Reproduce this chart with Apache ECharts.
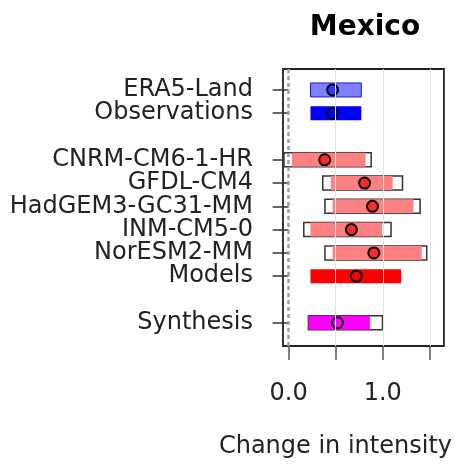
<!DOCTYPE html>
<html>
<head>
<meta charset="utf-8">
<script src="https://cdn.jsdelivr.net/npm/echarts@6/dist/echarts.min.js"></script>
<style>
html,body{margin:0;padding:0;background:#fff;}
#chart{width:455px;height:464px;}
</style>
</head>
<body>
<div id="chart"></div>
<script>
// ---- data ----
var rowNames = ['ERA5-Land','Observations','CNRM-CM6-1-HR','GFDL-CM4','HadGEM3-GC31-MM','INM-CM5-0','NorESM2-MM','Models','Synthesis'];
var rowPos   = [1, 2, 4, 5, 6, 7, 8, 9, 11];
var bestEst  = [0.467, 0.467, 0.383, 0.807, 0.891, 0.667, 0.905, 0.719, 0.519];
var lowerCI  = [0.232, 0.232, 0.035, 0.449, 0.467, 0.232, 0.467, 0.232, 0.210];
var upperCI  = [0.772, 0.772, 0.818, 1.105, 1.326, 0.993, 1.414, 1.196, 0.863];
var outerLow = [null, null, -0.050, 0.362, 0.386, 0.161, 0.386, null, 0.210];
var outerHigh= [null, null, 0.877, 1.210, 1.397, 1.088, 1.467, null, 0.997];
var xTicks   = [0, 0.5, 1, 1.5];
var xLabels  = [0, 1];
var gridVals = [0.5, 1, 1.5];
var refLine  = 0;
var yMin = 0.1, yMax = 12;

// ---- styles ----
var FONT = 'DejaVu Sans';
var barFill    = ['#8080ff','#0000ff','#ff8080','#ff8080','#ff8080','#ff8080','#ff8080','#ff0000','#ff00ff'];
var barStroke  = ['#1a1acc', null, null, null, null, null, null, null, null];
var dotFill    = ['#3535ff','#0000ff','#ff2a2a','#ff2a2a','#ff2a2a','#ff2a2a','#ff2a2a','#ff0000','#ff00ff'];

var items = rowNames.map(function(n, i){
  return [rowPos[i], lowerCI[i], upperCI[i], outerLow[i] == null ? '-' : outerLow[i], outerHigh[i] == null ? '-' : outerHigh[i], bestEst[i], i];
});

var nameByPos = {};
rowPos.forEach(function(p, i){ nameByPos[p] = rowNames[i]; });
// a blank placeholder label at the axis min keeps every row label visible
var yLabelVals = [yMin].concat(rowPos);

function renderItem(params, api){
  var idx = api.value(6);
  var y = api.value(0);
  var h = 14;
  var children = [];
  var ol = outerLow[idx], oh = outerHigh[idx];
  if (ol != null){
    var a = api.coord([ol, y]), b = api.coord([oh, y]);
    children.push({type:'rect', shape:{x:a[0], y:a[1]-h/2, width:b[0]-a[0], height:h},
      style:{fill:'#ffffff', stroke:'#333333', lineWidth:1.5}});
  }
  var c = api.coord([api.value(1), y]), d = api.coord([api.value(2), y]);
  children.push({type:'rect', shape:{x:c[0], y:c[1]-h/2, width:d[0]-c[0], height:h},
    style:{fill:barFill[idx], stroke:barStroke[idx] || null, lineWidth:barStroke[idx] ? 1 : 0}});
  var p = api.coord([api.value(5), y]);
  children.push({type:'circle', shape:{cx:p[0], cy:p[1], r:5.5},
    style:{fill:dotFill[idx], stroke:'#000000', lineWidth:2}});
  return {type:'group', children:children};
}

var chart = echarts.init(document.getElementById('chart'), null, {renderer:'canvas'});
var markData = gridVals.map(function(v){ return {xAxis:v, lineStyle:{color:'#e4e4e4', width:1, type:'solid'}}; });
markData.push({xAxis:refLine, lineStyle:{color:'#a0a0a0', width:2.5, type:[4,3]}});

chart.setOption({
  animation:false,
  backgroundColor:'#ffffff',
  title:{
    text:'Mexico', left:360, top:9, textAlign:'center',
    textStyle:{fontFamily:FONT, fontWeight:'bold', fontSize:28, color:'#000'}
  },
  grid:{left:283, right:9, top:69, bottom:116, show:true, borderColor:'#222', borderWidth:1.8, backgroundColor:'transparent'},
  xAxis:{
    type:'value', min:-0.06, max:1.65,
    axisLine:{show:false},
    splitLine:{show:false},
    axisTick:{show:true, customValues:xTicks, length:14, lineStyle:{color:'#555', width:1.5}},
    axisLabel:{customValues:xLabels, hideOverlap:false, formatter:function(v){return Number(v).toFixed(1);}, fontFamily:FONT, fontSize:24, color:'#222', margin:36},
    name:'Change in intensity', nameLocation:'middle', nameGap:89,
    nameTextStyle:{fontFamily:FONT, fontSize:24, color:'#222', padding:[0,56,0,0]}
  },
  yAxis:{
    type:'value', inverse:true, min:yMin, max:yMax,
    axisLine:{show:false},
    splitLine:{show:false},
    axisTick:{show:true, customValues:rowPos, length:16, lineStyle:{color:'#333', width:1.5}},
    axisLabel:{customValues:yLabelVals, hideOverlap:false, showMinLabel:false, showMaxLabel:true, lineHeight:16,
      formatter:function(v){return nameByPos[v] || ' ';}, fontFamily:FONT, fontSize:24, color:'#222', margin:30}
  },
  series:[
    {type:'line', data:[], z:1, silent:true,
     markLine:{silent:true, symbol:['none','none'], label:{show:false}, data:markData}},
    {type:'custom', z:3, renderItem:renderItem, data:items,
     encode:{x:[1,2,3,4,5], y:0}}
  ]
});
</script>
</body>
</html>
